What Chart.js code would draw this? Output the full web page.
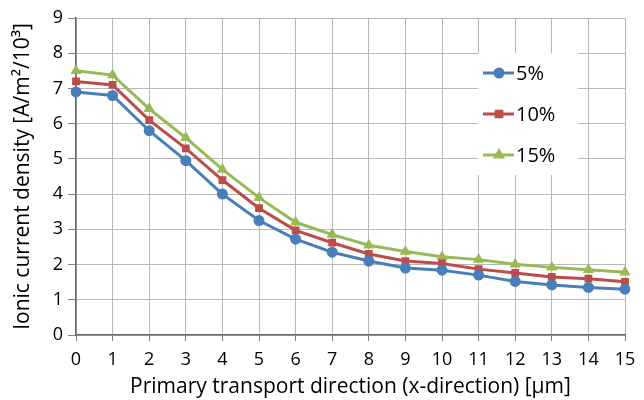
<!DOCTYPE html>
<html><head><meta charset="utf-8">
<script src="https://cdn.jsdelivr.net/npm/chart.js@4.4.1/dist/chart.umd.min.js"></script>
<style>html,body{margin:0;padding:0;background:#fff}#wrap{width:644px;height:400px}</style>
</head><body><div id="wrap"><canvas id="c" width="644" height="400"></canvas></div>
<script>
const categories = ['0','1','2','3','4','5','6','7','8','9','10','11','12','13','14','15'];
const s5  = [6.9, 6.8, 5.8, 4.95, 4.0, 3.25, 2.72, 2.35, 2.1, 1.9, 1.84, 1.70, 1.52, 1.42, 1.35, 1.30];
const s10 = [7.2, 7.1, 6.1, 5.3, 4.4, 3.6, 2.97, 2.62, 2.3, 2.1, 2.03, 1.87, 1.76, 1.65, 1.60, 1.51];
const s15 = [7.5, 7.38, 6.42, 5.6, 4.7, 3.9, 3.2, 2.85, 2.55, 2.37, 2.22, 2.14, 2.01, 1.92, 1.85, 1.78];
const seriesNames = ['5%','10%','15%'];
const yTicks = [0,1,2,3,4,5,6,7,8,9];

const FONT = '"Open Sans", Lato, sans-serif';
const colors = ['#4a7ebb','#be4b48','#98b954'];
const styles = ['circle','rect','triangle'];

const insideLegend = {
  id: 'insideLegend',
  beforeDatasetsDraw(chart) {
    const ctx = chart.ctx;
    ctx.save();
    ctx.fillStyle = '#fff';
    ctx.fillRect(478, 53, 100, 122);
    ctx.restore();
  },
  afterDraw(chart) {
    const ctx = chart.ctx;
    ctx.save();
    const rows = [73, 114, 155];
    chart.data.datasets.forEach((ds, i) => {
      const y = rows[i];
      ctx.strokeStyle = ds.borderColor;
      ctx.lineWidth = 3;
      ctx.beginPath(); ctx.moveTo(483, y); ctx.lineTo(514, y); ctx.stroke();
      Chart.helpers.drawPoint(ctx, {pointStyle: ds.pointStyle, radius: 4, borderWidth: 1}, 499, y);
      ctx.fillStyle = ds.borderColor;
      ctx.fill();
      ctx.fillStyle = '#000';
      ctx.font = '20px ' + FONT;
      ctx.textBaseline = 'middle';
      ctx.fillText(ds.label, 516, y + 1);
    });
    ctx.restore();
  }
};

const datasets = [s5, s10, s15].map((d, i) => ({
  label: seriesNames[i],
  data: d,
  borderColor: colors[i],
  backgroundColor: colors[i],
  borderWidth: 3,
  pointStyle: styles[i],
  pointRadius: i === 2 ? 6.5 : 5.5,
  pointBorderWidth: 0,
  tension: 0
}));

new Chart(document.getElementById('c'), {
  type: 'line',
  data: { labels: categories, datasets },
  plugins: [insideLegend],
  options: {
    responsive: false,
    animation: false,
    layout: { padding: { top: 18, right: 19, left: 0, bottom: 0 } },
    plugins: { legend: { display: false }, tooltip: { enabled: false } },
    scales: {
      x: {
        offset: false,
        afterFit(scale) { scale.height = 65; },
        grid: { color: '#b8b8b8', lineWidth: 1, tickLength: 6, tickColor: '#7f7f7f' },
        border: { color: '#666666', width: 1.5 },
        ticks: { color: '#000', font: { family: FONT, size: 18 }, padding: 8, maxRotation: 0, autoSkip: false },
        title: { display: true, text: 'Primary transport direction (x-direction) [μm]', color: '#000', font: { family: FONT, size: 21 }, padding: { top: 0, bottom: 0 } }
      },
      y: {
        min: 0, max: 9,
        afterFit(scale) { scale.width = 76; },
        afterBuildTicks(scale) { scale.ticks = yTicks.map(v => ({ value: v })); },
        grid: { color: '#b8b8b8', lineWidth: 1, tickLength: 8, tickColor: '#7f7f7f' },
        border: { color: '#666666', width: 1.5 },
        ticks: { color: '#000', font: { family: FONT, size: 18 }, padding: 5 },
        title: { display: true, text: 'Ionic current density [A/m²/10³]', color: '#000', font: { family: FONT, size: 21 }, padding: { top: 10, bottom: 0 } }
      }
    }
  }
});
</script></body></html>
